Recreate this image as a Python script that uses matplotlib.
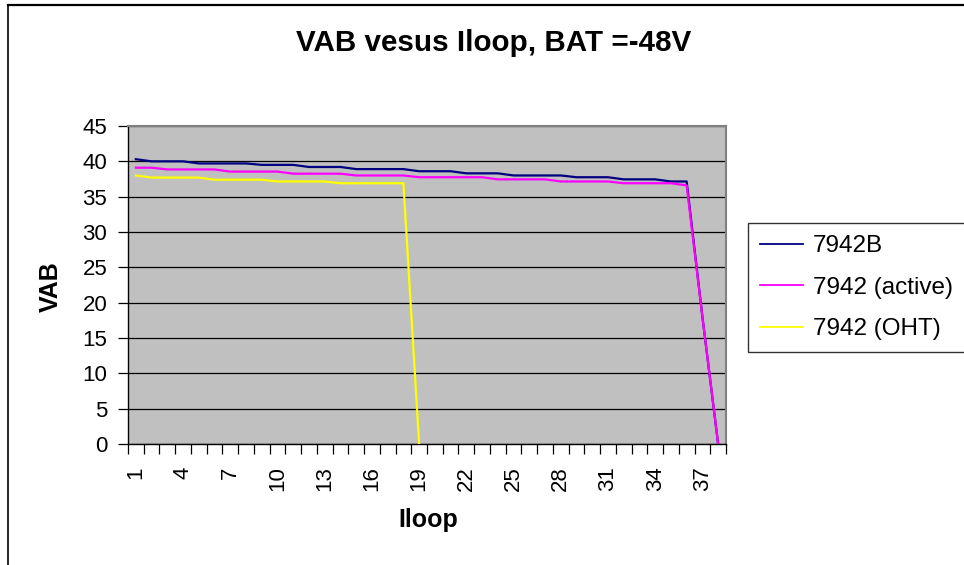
import matplotlib.pyplot as plt
from matplotlib.lines import Line2D

plt.rcParams['font.family'] = ['Liberation Sans', 'DejaVu Sans']

# Iloop categories and VAB readings
iloop = list(range(1, 39))
vab_7942b = [40.3, 40.0, 40.0, 40.0, 39.7, 39.7, 39.7, 39.7, 39.5, 39.5,
             39.5, 39.2, 39.2, 39.2, 38.9, 38.9, 38.9, 38.9, 38.6, 38.6,
             38.6, 38.3, 38.3, 38.3, 38.0, 38.0, 38.0, 38.0, 37.75, 37.75,
             37.75, 37.45, 37.45, 37.45, 37.15, 37.15, 18.0, 0.0]
vab_active = [39.1, 39.1, 38.85, 38.85, 38.85, 38.85, 38.55, 38.55, 38.55, 38.55,
              38.25, 38.25, 38.25, 38.25, 38.0, 38.0, 38.0, 38.0, 37.75, 37.75,
              37.75, 37.75, 37.75, 37.45, 37.45, 37.45, 37.45, 37.15, 37.15, 37.15,
              37.15, 36.9, 36.9, 36.9, 36.9, 36.6, 18.0, 0.0]
nan = float('nan')
vab_oht = [38.0, 37.7, 37.7, 37.7, 37.7, 37.4, 37.4, 37.4, 37.4, 37.15,
           37.15, 37.15, 37.15, 36.9, 36.9, 36.9, 36.9, 36.9, 0.0] + [nan] * 19

series_names = ['7942B', '7942 (active)', '7942 (OHT)']
series_colors = ['#000080', '#FF00FF', '#FFFF00']
y_ticks = list(range(0, 50, 5))

W, H = 964, 565
fig = plt.figure(figsize=(W / 100, H / 100), dpi=100)

# plot area in pixel terms
left, right, top, bottom = 128, 726, 126, 444
ax = fig.add_axes([left / W, 1 - bottom / H, (right - left) / W, (bottom - top) / H])
ax.set_facecolor('#C0C0C0')

for vals, name, col in zip([vab_7942b, vab_active, vab_oht], series_names, series_colors):
    ax.plot(iloop, vals, color=col, lw=1.6, label=name, zorder=3)

ax.set_xlim(0.5, 38.5)
ax.set_ylim(0, 45)
ax.set_yticks(y_ticks)
ax.yaxis.grid(True, color='black', lw=0.9)
ax.set_axisbelow(True)

# ticks at category boundaries, labels every third category
ax.set_xticks([i + 0.5 for i in range(0, 39)])
ax.set_xticklabels([])
ax.set_xticks(iloop[::3], minor=True)
ax.set_xticklabels([str(i) for i in iloop[::3]], minor=True, rotation=90)
ax.tick_params(axis='x', which='major', direction='out', length=7, width=0.9)
ax.tick_params(axis='x', which='minor', length=0, pad=16, labelsize=16)
ax.tick_params(axis='y', direction='out', length=7, width=0.9, labelsize=16, pad=8)

for s in ['top', 'right']:
    ax.spines[s].set_color('#808080')
    ax.spines[s].set_linewidth(1.5)
for s in ['left', 'bottom']:
    ax.spines[s].set_color('black')
    ax.spines[s].set_linewidth(1.0)

fig.text(494 / W, 1 - 43 / H, 'VAB vesus Iloop, BAT =-48V', ha='center', va='center',
         fontsize=21.3, fontweight='bold')
fig.text(51 / W, 1 - 287 / H, 'VAB', rotation=90, ha='center', va='center',
         fontsize=18, fontweight='bold')
fig.text(428 / W, 1 - 520 / H, 'Iloop', ha='center', va='center',
         fontsize=18, fontweight='bold')

leg = fig.legend(loc='upper left', bbox_to_anchor=(748 / W, 1 - 223 / H),
                 fontsize=17.5, frameon=True, fancybox=False, edgecolor='black',
                 handlelength=1.75, handletextpad=0.42, labelspacing=0.8,
                 borderpad=0.5, borderaxespad=0)
leg.get_frame().set_linewidth(1.0)
for h in leg.get_lines():
    h.set_linewidth(1.3)

# outer chart border (cut off at right and bottom like the source)
fig.add_artist(Line2D([8 / W, 8 / W], [0, 1 - 5 / H], color='black', lw=1.2))
fig.add_artist(Line2D([8 / W, 1], [1 - 5 / H, 1 - 5 / H], color='black', lw=1.6))

fig.savefig('out.png', dpi=100)
